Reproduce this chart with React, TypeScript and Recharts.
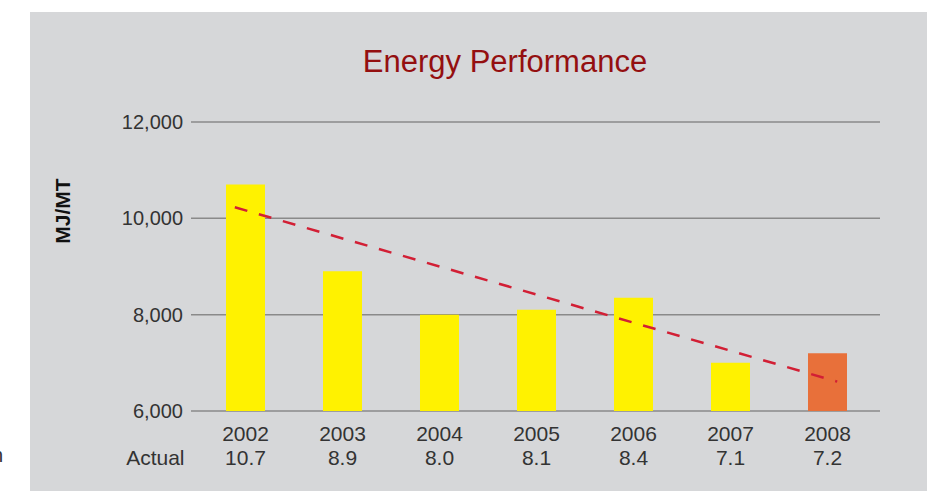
import React from 'react';
import { ComposedChart, Bar, Cell, XAxis, YAxis, CartesianGrid, Scatter } from 'recharts';

const years = ['2002', '2003', '2004', '2005', '2006', '2007', '2008'];
const energy = [10700, 8900, 8000, 8100, 8350, 7000, 7200];
const actualLabels = ['10.7', '8.9', '8.0', '8.1', '8.4', '7.1', '7.2'];
const barColors = ['#fff200', '#fff200', '#fff200', '#fff200', '#fff200', '#fff200', '#e8703a'];
const yTicks = [6000, 8000, 10000, 12000];
const trendX = [-0.11, 6.1];
const trendY = [10230, 6610];

const data = years.map((y, i) => ({ year: y, energy: energy[i], actual: actualLabels[i] }));
const trendData = trendX.map((x, i) => ({ tx: x, ty: trendY[i] }));

const FONT = '"Liberation Sans", Arial, Helvetica, sans-serif';

const XTick = (props: any) => {
  const { x, y, payload, index } = props;
  return (
    <g>
      <text x={x} y={y + 30} textAnchor="middle" fontSize={21} fill="#333" fontFamily={FONT}>
        {payload.value}
      </text>
      <text x={x} y={y + 54} textAnchor="middle" fontSize={21} fill="#333" fontFamily={FONT}>
        {actualLabels[index]}
      </text>
      {index === 0 ? (
        <text x={x - 61} y={y + 54} textAnchor="end" fontSize={21} fill="#333" fontFamily={FONT}>
          Actual
        </text>
      ) : null}
    </g>
  );
};

const NoShape = () => <g />;

export default function App() {
  return (
    <div style={{ position: 'absolute', left: 0, top: 0, width: 934, height: 491, background: '#fff', overflow: 'hidden', fontFamily: FONT }}>
      <div style={{ position: 'absolute', left: 30, top: 12, width: 897, height: 479, background: '#d6d7d9' }} />
      <div style={{ position: 'absolute', left: -8, top: 444, fontSize: 20, color: '#333' }}>n</div>
      <div
        style={{
          position: 'absolute',
          left: 205,
          width: 600,
          top: 44,
          textAlign: 'center',
          fontSize: 31,
          lineHeight: '36px',
          color: '#940f10',
        }}
      >
        Energy Performance
      </div>
      <div
        style={{
          position: 'absolute',
          left: 63,
          top: 211,
          transform: 'translate(-50%, -50%) rotate(-90deg)',
          fontSize: 21,
          fontWeight: 'bold',
          color: '#111',
          whiteSpace: 'nowrap',
        }}
      >
        MJ/MT
      </div>
      <div style={{ position: 'absolute', left: 0, top: 0 }}>
        <ComposedChart width={934} height={491} data={data} margin={{ top: 122, right: 54, bottom: 0, left: 121 }}>
          <CartesianGrid horizontal vertical={false} stroke="#8a8a8a" strokeWidth={1.5} />
          <XAxis
            dataKey="year"
            type="category"
            height={80}
            axisLine={false}
            tickLine={false}
            tickSize={0}
            tickMargin={0}
            padding={{ left: 6, right: 4 }}
            tick={<XTick />}
            interval={0}
          />
          <XAxis
            xAxisId="trend"
            dataKey="tx"
            type="number"
            domain={[-0.5, 6.5]}
            allowDataOverflow
            padding={{ left: 6, right: 4 }}
            hide
          />
          <YAxis
            width={70}
            domain={[6000, 12000]}
            ticks={yTicks}
            allowDataOverflow
            axisLine={false}
            tickLine={false}
            tickSize={0}
            tickMargin={8}
            tick={{ fontSize: 20, fill: '#333', fontFamily: FONT }}
            tickFormatter={(v: number) => v.toLocaleString('en-US')}
          />
          <Bar dataKey="energy" barSize={39} isAnimationActive={false}>
            {data.map((d, i) => (
              <Cell key={d.year} fill={barColors[i]} />
            ))}
          </Bar>
          <Scatter
            xAxisId="trend"
            data={trendData}
            dataKey="ty"
            fill="#d21f35"
            shape={NoShape}
            line={{ stroke: '#d21f35', strokeWidth: 2.5, strokeDasharray: '13 12' }}
            isAnimationActive={false}
          />
        </ComposedChart>
      </div>
    </div>
  );
}
